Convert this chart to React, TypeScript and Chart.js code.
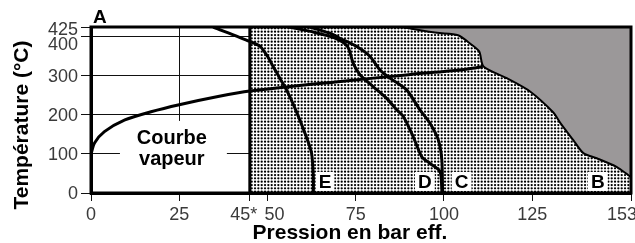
import React, { useEffect, useRef } from 'react';
import { Chart, registerables } from 'chart.js';

Chart.register(...registerables);

// ---- axis ticks ----
const xTicks = [0, 25, 45, 50, 75, 100, 125, 153];
const xTickLabels = ['0', '25', '45*', '50', '75', '100', '125', '153'];
const yTicks = [0, 100, 200, 300, 400, 425];
const yTickLabels = ['0', '100', '200', '300', '400', '425'];
const dividerX = 45;

// ---- curves (pressure in bar, temperature in °C) ----
const vapourX = [0, 1, 3.8, 9.6, 17, 25, 36, 45, 70, 90, 104.5, 111];
const vapourY = [100, 128, 157, 187, 208, 226, 247, 261, 285, 303, 315, 323];

const curveBX = [88, 98, 104, 107.5, 110, 111.2, 117.8, 124.4, 131, 133, 136.6, 139.5, 143.3, 148.9, 152.2, 153];
const curveBY = [425, 410, 404, 382, 362, 324, 294, 260, 206, 179, 136, 102, 89, 67, 46, 40];

const curveCX = [62, 68, 71, 75.3, 79, 81.9, 84.7, 89.4, 93.2, 96, 98.4, 99.4, 99.6, 99.6];
const curveCY = [425, 408, 394, 375, 350, 315, 294, 264, 213, 179, 136, 85, 8, 0];

const curveDX = [56, 63, 69, 72.7, 74.3, 76.2, 80, 83.7, 86.6, 88.5, 91.3, 93.7, 96, 98.9, 99.4, 99.4];
const curveDY = [425, 412, 397, 375, 332, 303, 272, 243, 213, 196, 144, 93, 76, 55, 8, 0];

const curveEX = [34.6, 45, 48, 50, 51.6, 53.5, 55.4, 58, 61, 62.5, 63, 63];
const curveEY = [425, 388, 375, 350, 324, 294, 264, 213, 144, 102, 40, 0];

const curveLetters = ['E', 'D', 'C', 'B'];
const curveLetterX = [66.3, 94.6, 105, 143.6];
const curveLetterY = [13, 13, 13, 13];

const pts = (xs: number[], ys: number[]) => xs.map((x, i) => ({ x, y: ys[i] }));

const FONT = '"Liberation Sans", Arial, Helvetica, sans-serif';

function makeDots(): CanvasPattern | string {
  const c = document.createElement('canvas');
  c.width = 10;
  c.height = 10;
  const g = c.getContext('2d');
  if (!g) return '#ccc';
  g.fillStyle = '#fff';
  g.fillRect(0, 0, 10, 10);
  g.fillStyle = '#000';
  const s = 10 / 3;
  for (let i = 0; i < 3; i++) {
    for (let j = 0; j < 3; j++) {
      g.beginPath();
      g.arc(1.7 + i * s, 1.7 + j * s, 1.15, 0, Math.PI * 2);
      g.fill();
    }
  }
  const p = g.createPattern(c, 'repeat');
  return p || '#ccc';
}

const overlay = {
  id: 'overlay',
  beforeDatasetsDraw(chart: any) {
    const { ctx, scales } = chart;
    const x = scales.x, y = scales.y;
    ctx.save();
    ctx.fillStyle = '#fff';
    const l = x.getPixelForValue(8.2), r = x.getPixelForValue(38.5);
    const t = y.getPixelForValue(184.6), b = y.getPixelForValue(2);
    ctx.fillRect(l, t, r - l, b - t);
    ctx.restore();
  },
  afterDatasetsDraw(chart: any) {
    const { ctx, chartArea: a, scales } = chart;
    const x = scales.x, y = scales.y;
    ctx.save();
    // frame
    ctx.strokeStyle = '#000';
    ctx.lineWidth = 3;
    ctx.strokeRect(a.left, a.top, a.right - a.left, a.bottom - a.top);

    // curve letters
    ctx.font = 'bold 19px ' + FONT;
    ctx.textAlign = 'center';
    ctx.textBaseline = 'alphabetic';
    curveLetters.forEach((s, i) => {
      const px = x.getPixelForValue(curveLetterX[i]);
      const py = y.getPixelForValue(curveLetterY[i]);
      const w = ctx.measureText(s).width + 6;
      ctx.fillStyle = '#fff';
      ctx.fillRect(px - w / 2, py - 16, w, 19);
      ctx.fillStyle = '#000';
      ctx.fillText(s, px, py);
    });

    // Courbe vapeur
    ctx.font = 'bold 20px ' + FONT;
    const cx = x.getPixelForValue(22.9);
    ctx.fillText('Courbe', cx, y.getPixelForValue(126));
    ctx.fillText('vapeur', cx, y.getPixelForValue(72));

    // A
    ctx.font = 'bold 19px ' + FONT;
    ctx.textAlign = 'left';
    ctx.fillText('A', a.left + 2, a.top - 4);

    // tick labels
    ctx.font = '18px ' + FONT;
    ctx.fillStyle = '#3a3a3a';
    ctx.textAlign = 'center';
    const xNudge: Record<string, number> = { '45*': -6, '50': 7, '153': -9 };
    xTicks.forEach((v, i) => {
      const lab = xTickLabels[i];
      ctx.fillText(lab, x.getPixelForValue(v) + (xNudge[lab] || 0), a.bottom + 27);
    });
    ctx.textAlign = 'right';
    const yNudge: Record<string, number> = { '425': 2, '400': 7 };
    yTicks.forEach((v, i) => {
      const lab = yTickLabels[i];
      ctx.fillText(lab, a.left - 13, y.getPixelForValue(v) + 6 + (yNudge[lab] || 0));
    });

    // titles
    ctx.fillStyle = '#000';
    ctx.font = 'bold 21px ' + FONT;
    ctx.textAlign = 'center';
    ctx.fillText('Pression en bar eff.', 350, a.bottom + 46);
    ctx.translate(28, 125);
    ctx.rotate(-Math.PI / 2);
    ctx.fillText('Température (°C)', 0, 0);
    ctx.restore();
  },
};

export default function App() {
  const ref = useRef<HTMLCanvasElement | null>(null);
  useEffect(() => {
    if (!ref.current) return;
    const dots = makeDots();
    const gray = '#9b9899';
    const lineDs = (data: any[], order: number, width = 3) => ({
      data,
      borderColor: '#000',
      borderWidth: width,
      pointRadius: 0,
      tension: 0.25,
      fill: false,
      order,
    });
    const chart = new Chart(ref.current, {
      type: 'line',
      data: {
        datasets: [
          {
            data: [{ x: dividerX, y: 425 }, ...pts(curveBX, curveBY)],
            borderColor: 'rgba(0,0,0,0)',
            borderWidth: 0,
            pointRadius: 0,
            tension: 0.25,
            fill: 'origin',
            backgroundColor: dots as any,
            order: 6,
          },
          {
            data: pts(curveBX, curveBY),
            borderColor: '#000',
            borderWidth: 2,
            pointRadius: 0,
            tension: 0.25,
            fill: 'end',
            backgroundColor: gray,
            order: 5,
          },
          lineDs([{ x: dividerX, y: 0 }, { x: dividerX, y: 425 }], 4, 3),
          lineDs(pts(curveEX, curveEY), 3),
          lineDs(pts(curveDX, curveDY), 3),
          lineDs(pts(curveCX, curveCY), 3),
          lineDs(pts(vapourX, vapourY), 2),
        ] as any,
      },
      options: {
        animation: false,
        responsive: false,
        maintainAspectRatio: false,
        devicePixelRatio: 1,
        events: [],
        layout: { padding: { top: 27, right: 4, left: 0, bottom: 0 } },
        plugins: { legend: { display: false }, tooltip: { enabled: false }, title: { display: false } },
        scales: {
          x: {
            type: 'linear',
            min: 0,
            max: 153,
            afterBuildTicks: (s: any) => { s.ticks = xTicks.map((v) => ({ value: v })); },
            afterFit: (s: any) => { s.height = 50; },
            ticks: { display: false },
            grid: { color: '#111', lineWidth: 1, tickLength: 8, drawTicks: true },
            border: { display: true, color: '#000', width: 3 },
          },
          y: {
            type: 'linear',
            min: 0,
            max: 425,
            afterBuildTicks: (s: any) => { s.ticks = yTicks.map((v) => ({ value: v })); },
            afterFit: (s: any) => { s.width = 91; },
            ticks: { display: false },
            grid: { color: '#111', lineWidth: 1, tickLength: 10, drawTicks: true },
            border: { display: true, color: '#000', width: 3 },
          },
        },
      } as any,
      plugins: [overlay],
    });
    return () => chart.destroy();
  }, []);
  return (
    <div style={{ position: 'fixed', left: 0, top: 0, width: 635, height: 243, background: '#fff' }}>
      <canvas ref={ref} width={635} height={243} style={{ width: 635, height: 243, display: 'block' }} />
    </div>
  );
}
